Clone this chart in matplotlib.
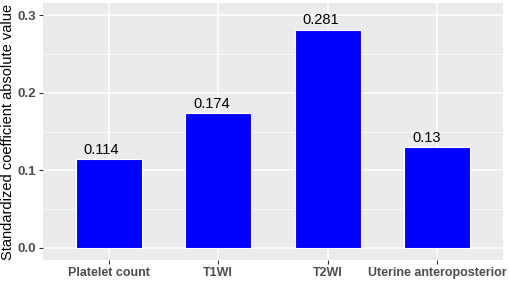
import matplotlib
matplotlib.use("Agg")
import matplotlib.pyplot as plt

plt.rcParams['font.family'] = ['Liberation Sans', 'DejaVu Sans']

# data
categories = ["Platelet count", "T1WI", "T2WI", "Uterine anteroposterior"]
values = [0.114, 0.174, 0.281, 0.13]
labels = ["0.114", "0.174", "0.281", "0.13"]
yticks = [0.0, 0.1, 0.2, 0.3]

fig = plt.figure(figsize=(5.1, 2.84), dpi=100)
ax = fig.add_axes([43 / 510, 24 / 284, 460 / 510, 257 / 284])
ax.set_facecolor("#EBEBEB")

x = range(1, len(categories) + 1)
ax.bar(x, values, width=0.6, color="#0000FF", edgecolor="white", linewidth=0.8, zorder=3)
# labels sit left-aligned a bit left of the bar centre, like the original
for xi, v, lab in zip(x, values, labels):
    ax.text(xi - 0.23, v + 0.003, lab, ha="left", va="bottom", fontsize=10.5, color="black", zorder=4)

ax.set_xlim(0.4, 4.6)
ax.set_ylim(-0.0155, 0.3155)
ax.set_xticks(list(x))
ax.set_xticklabels(categories, fontsize=9, fontweight="bold", color="#4D4D4D")
ax.set_yticks(yticks)
ax.set_yticklabels([f"{t:.1f}" for t in yticks], fontsize=9.5, fontweight="bold", color="#4D4D4D")
ax.set_yticks([0.05, 0.15, 0.25], minor=True)
ax.grid(True, which="major", color="white", linewidth=1.1, zorder=0)
ax.grid(True, which="minor", axis="y", color="white", linewidth=0.5, zorder=0)
ax.tick_params(which="major", length=3, color="#333333", width=0.8, pad=2)
ax.tick_params(which="minor", length=0)
for s in ax.spines.values():
    s.set_visible(False)
ax.set_axisbelow(True)
ax.set_ylabel("Standardized coefficient absolute value", fontsize=10.5, labelpad=2)

fig.savefig("out.png", dpi=100)
